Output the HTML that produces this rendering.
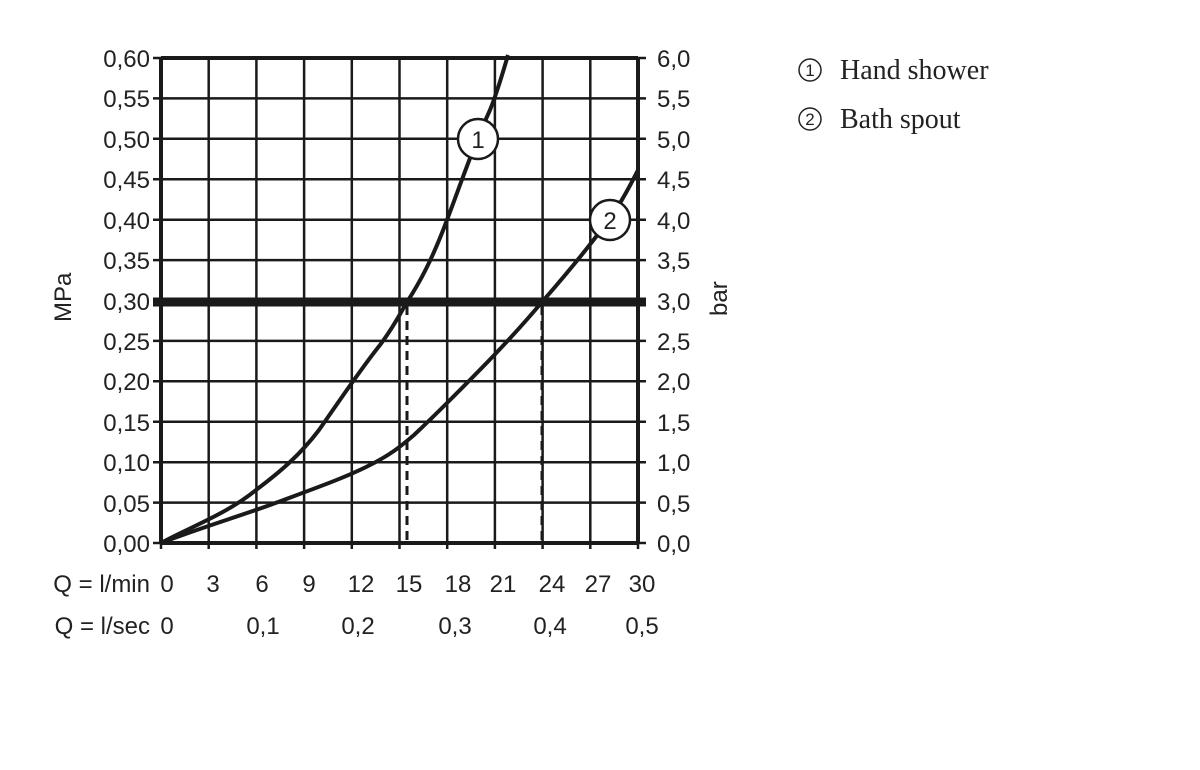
<!DOCTYPE html>
<html><head><meta charset="utf-8"><style>body{margin:0;background:#fff}</style></head><body>
<svg width="1200" height="765" xmlns="http://www.w3.org/2000/svg" font-family="Liberation Sans, DejaVu Sans, sans-serif" fill="#222">
<g stroke="#1a1a1a" stroke-width="2.5">
<line x1="161" y1="58" x2="161" y2="549"/><line x1="208.7" y1="58" x2="208.7" y2="549"/><line x1="256.4" y1="58" x2="256.4" y2="549"/><line x1="304.1" y1="58" x2="304.1" y2="549"/><line x1="351.8" y1="58" x2="351.8" y2="549"/><line x1="399.5" y1="58" x2="399.5" y2="549"/><line x1="447.2" y1="58" x2="447.2" y2="549"/><line x1="494.9" y1="58" x2="494.9" y2="549"/><line x1="542.6" y1="58" x2="542.6" y2="549"/><line x1="590.3" y1="58" x2="590.3" y2="549"/><line x1="638" y1="58" x2="638" y2="549"/>
<line x1="153" y1="58" x2="646" y2="58"/><line x1="153" y1="98.4" x2="646" y2="98.4"/><line x1="153" y1="138.8" x2="646" y2="138.8"/><line x1="153" y1="179.3" x2="646" y2="179.3"/><line x1="153" y1="219.7" x2="646" y2="219.7"/><line x1="153" y1="260.1" x2="646" y2="260.1"/><line x1="153" y1="340.9" x2="646" y2="340.9"/><line x1="153" y1="381.3" x2="646" y2="381.3"/><line x1="153" y1="421.8" x2="646" y2="421.8"/><line x1="153" y1="462.2" x2="646" y2="462.2"/><line x1="153" y1="502.6" x2="646" y2="502.6"/><line x1="153" y1="543" x2="646" y2="543"/>
<line x1="161" y1="58" x2="161" y2="543" stroke-width="4"/><line x1="638" y1="58" x2="638" y2="543" stroke-width="4"/><line x1="161" y1="58" x2="638" y2="58" stroke-width="4"/><line x1="161" y1="543" x2="638" y2="543" stroke-width="4"/>
<line x1="153" y1="302" x2="646" y2="302" stroke-width="9"/>
<line x1="407" y1="306" x2="407" y2="543" stroke-dasharray="9,6" stroke-width="3"/>
<line x1="542" y1="306" x2="542" y2="543" stroke-dasharray="9,6" stroke-width="3"/>
<path fill="none" stroke-width="4" d="M161,543 C190,527 225,515 256,490 C280,472 300,455 319,430 C340,400 360,370 380,345 C395,325 402,310 407,302 C420,282 432,260 447,220 C462,180 474,145 490,110 C498,90 503,72 508,55"/>
<path fill="none" stroke-width="4" d="M161,543 C200,528 240,516 270,505 C310,490 345,478 370,465 C390,455 400,447 414,435 C430,420 440,410 450,400 C480,370 510,340 542,302 C570,270 590,245 605,225 C617,210 628,190 638,170"/>
</g>
<g fill="#fff" stroke="#1a1a1a" stroke-width="2.5"><circle cx="478" cy="139" r="20"/><circle cx="610" cy="220" r="20"/></g>
<g font-size="24" text-anchor="middle"><text x="478" y="148">1</text><text x="610" y="229">2</text></g>
<g font-size="24" text-anchor="end">
<text x="150" y="67">0,60</text><text x="150" y="107">0,55</text><text x="150" y="148">0,50</text><text x="150" y="188">0,45</text><text x="150" y="229">0,40</text><text x="150" y="269">0,35</text><text x="150" y="310">0,30</text><text x="150" y="350">0,25</text><text x="150" y="390">0,20</text><text x="150" y="431">0,15</text><text x="150" y="471">0,10</text><text x="150" y="512">0,05</text><text x="150" y="552">0,00</text>
</g>
<g font-size="24">
<text x="657" y="67">6,0</text><text x="657" y="107">5,5</text><text x="657" y="148">5,0</text><text x="657" y="188">4,5</text><text x="657" y="229">4,0</text><text x="657" y="269">3,5</text><text x="657" y="310">3,0</text><text x="657" y="350">2,5</text><text x="657" y="390">2,0</text><text x="657" y="431">1,5</text><text x="657" y="471">1,0</text><text x="657" y="512">0,5</text><text x="657" y="552">0,0</text>
</g>
<g font-size="24" text-anchor="middle">
<text x="167" y="592">0</text><text x="213" y="592">3</text><text x="262" y="592">6</text><text x="309" y="592">9</text><text x="361" y="592">12</text><text x="409" y="592">15</text><text x="458" y="592">18</text><text x="503" y="592">21</text><text x="552" y="592">24</text><text x="598" y="592">27</text><text x="642" y="592">30</text>
<text x="167" y="634">0</text><text x="263" y="634">0,1</text><text x="358" y="634">0,2</text><text x="455" y="634">0,3</text><text x="550" y="634">0,4</text><text x="642" y="634">0,5</text>
</g>
<g font-size="24" text-anchor="end"><text x="150" y="592">Q = l/min</text><text x="150" y="634">Q = l/sec</text></g>
<text font-size="24" transform="translate(71,322) rotate(-90)">MPa</text>
<text font-size="24" transform="translate(727,316) rotate(-90)">bar</text>
<g font-family="Liberation Serif, serif" font-size="28">
<g fill="none" stroke="#222" stroke-width="1.5"><circle cx="810" cy="70" r="11"/><circle cx="810" cy="119" r="11"/></g>
<g font-size="17" font-family="Liberation Sans, sans-serif" text-anchor="middle"><text x="810" y="76">1</text><text x="810" y="125">2</text></g>
<text x="840" y="79">Hand shower</text><text x="840" y="128">Bath spout</text></g>
</svg>
</body></html>
